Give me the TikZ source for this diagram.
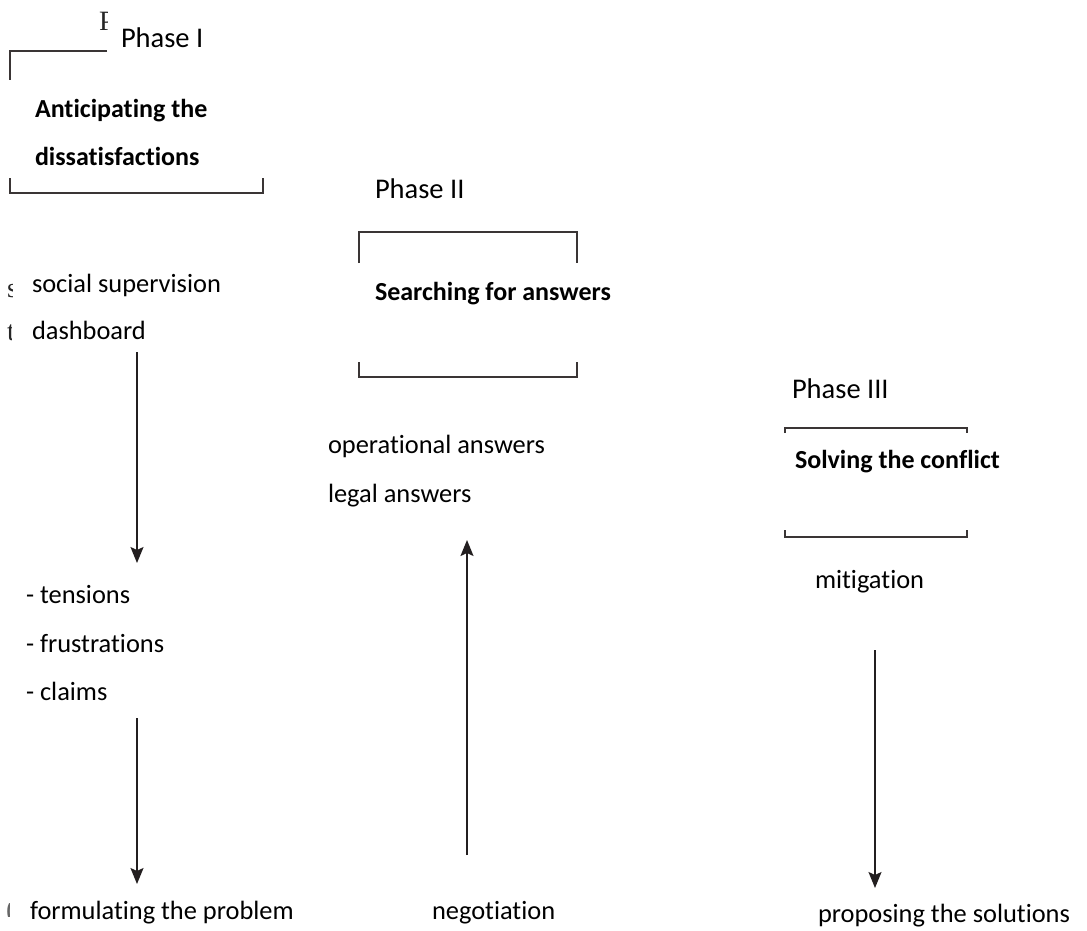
\documentclass[tikz,border=0pt]{standalone}
\usepackage{fontspec}
\setmainfont[Ligatures={NoCommon}]{Carlito}
\newfontfamily\seriffont{Liberation Serif}
\usetikzlibrary{arrows.meta}
\definecolor{ink}{HTML}{231F20}
\definecolor{boxline}{HTML}{3A3535}
\begin{document}
\begin{tikzpicture}[x=1pt,y=-1pt,
  lbl/.style={anchor=base west,inner sep=0pt,outer sep=0pt,font=\fontsize{26.4}{30}\selectfont,text=black},
  phase/.style={lbl,font=\fontsize{28.5}{32}\selectfont},
  blbl/.style={lbl,font=\fontsize{26}{30}\selectfont\bfseries},
  frag/.style={anchor=base west,inner sep=0pt,outer sep=0pt,font=\seriffont\fontsize{28}{30}\selectfont,text=black!85},
  bracket/.style={draw=boxline,line width=1.3pt},
  flow/.style={draw=ink,line width=1.6pt,-{Stealth[width=13pt,length=16pt,inset=3pt]}}]
\useasboundingbox (0,0) rectangle (1087,930);
% stray fragments of hidden text
\begin{scope}
\clip (95,0) rectangle (107.5,40);
\node[frag] (fragP) at (99,30) {P};
\end{scope}
\begin{scope}
\clip (0,270) rectangle (12.5,300);
\node[frag] (fragS) at (7,297) {s};
\end{scope}
\begin{scope}
\clip (0,310) rectangle (11,345);
\node[frag] (fragT) at (7,340) {t};
\end{scope}
\begin{scope}
\clip (6.5,903) rectangle (9.5,916);
\node[frag,text=black!60] (fragC) at (6,918) {(};
\end{scope}
% brackets
\draw[bracket] (107,51) -- (10,51) -- (10,80);
\draw[bracket] (10,178) -- (10,193) -- (263,193) -- (263,178);
\draw[bracket] (359,263) -- (359,232) -- (577,232) -- (577,263);
\draw[bracket] (359,362) -- (359,377) -- (577,377) -- (577,362);
\draw[bracket] (785,433) -- (785,428) -- (967,428) -- (967,433);
\draw[bracket] (785,530) -- (785,537) -- (967,537) -- (967,530);
% texts
\node[phase] (ph1) at (121,47) {Phase I};
\node[blbl] (ant1) at (35,117) {Anticipating the};
\node[blbl] (ant2) at (35,165) {dissatisfactions};
\node[phase] (ph2) at (375,198) {Phase II};
\node[lbl] (soc) at (32,292) {social supervision};
\node[lbl] (dash) at (32,339) {dashboard};
\node[blbl] (search) at (375,300) {Searching for answers};
\node[phase] (ph3) at (792,398) {Phase III};
\node[blbl] (solve) at (795,468) {Solving the conflict};
\node[lbl] (oper) at (328,453) {operational answers};
\node[lbl] (legal) at (328,502) {legal answers};
\node[lbl] (mitig) at (815,588) {mitigation};
\node[lbl] (tens) at (26,603) {- tensions};
\node[lbl] (frus) at (26,652) {- frustrations};
\node[lbl] (claims) at (26,700) {- claims};
\node[lbl] (formul) at (30,919) {formulating the problem};
\node[lbl] (nego) at (432,919) {negotiation};
\node[lbl] (propo) at (818,922) {proposing the solutions};
% arrow end points
\coordinate (a1s) at (137,352);
\coordinate (a1e) at (137,563);
\coordinate (a2s) at (137,718);
\coordinate (a2e) at (137,884);
\coordinate (a3s) at (467,855);
\coordinate (a3e) at (467,540);
\coordinate (a4s) at (875,650);
\coordinate (a4e) at (875,888);
\draw[flow] (a1s) -- (a1e);
\draw[flow] (a2s) -- (a2e);
\draw[flow] (a3s) -- (a3e);
\draw[flow] (a4s) -- (a4e);
\end{tikzpicture}
\end{document}
